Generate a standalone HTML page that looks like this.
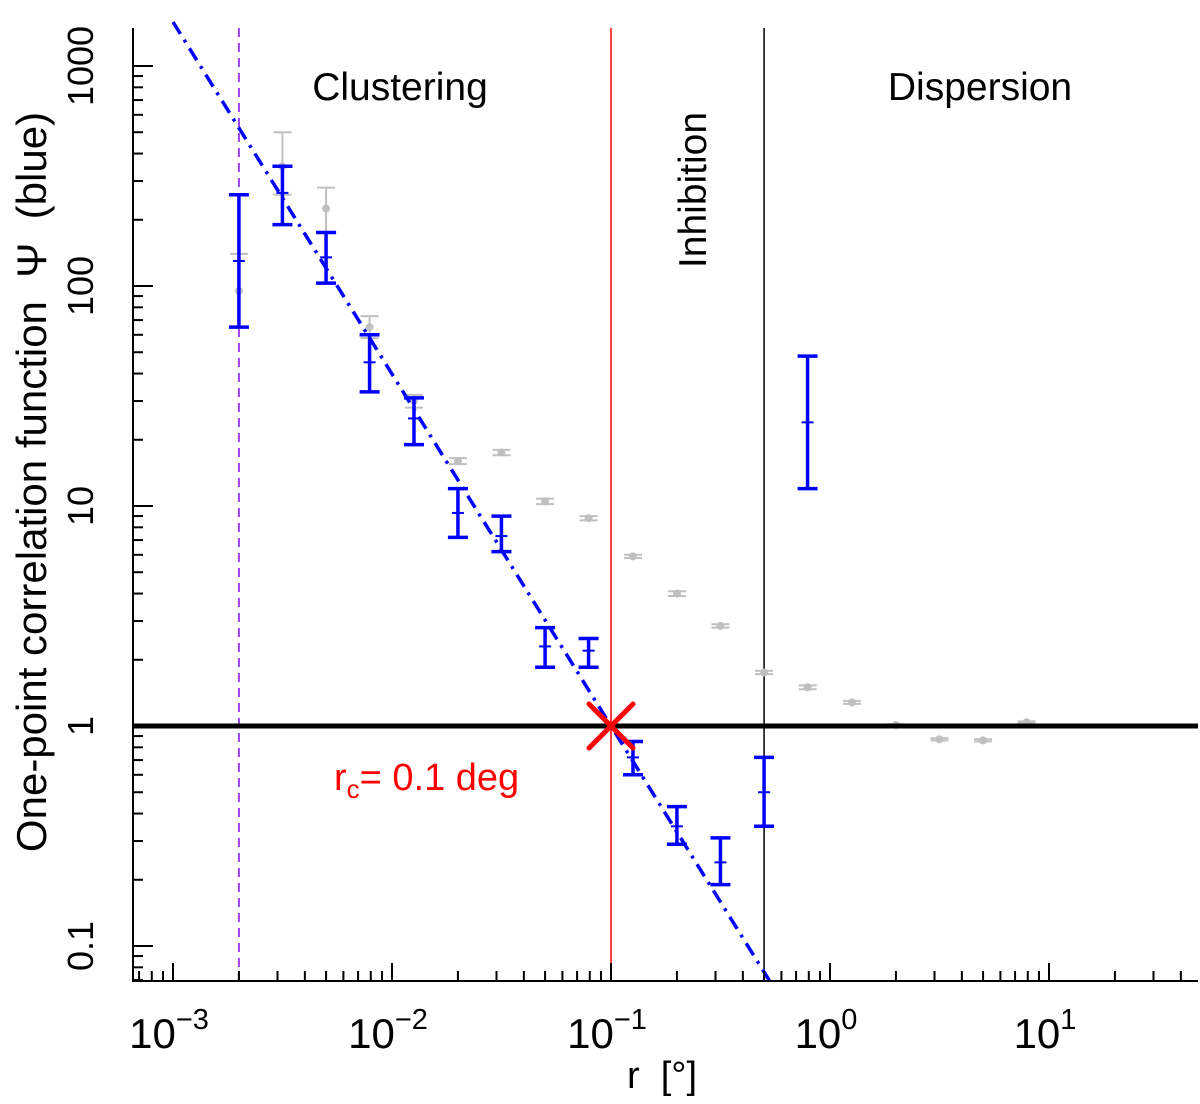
<!DOCTYPE html>
<html><head><meta charset="utf-8"><style>
body{margin:0;background:#fff}
svg{display:block;font-family:"Liberation Sans",sans-serif}
text{white-space:pre}
</style></head><body>
<svg id="chart" width="1200" height="1104" viewBox="0 0 1200 1104">
<g id="g"></g>
<text x="400" y="100" font-size="39" text-anchor="middle">Clustering</text>
<text x="980" y="100" font-size="39" text-anchor="middle">Dispersion</text>
<text transform="translate(706,190) rotate(-90)" font-size="39" text-anchor="middle">Inhibition</text>
<text x="334" y="790" font-size="38" fill="#f00">r<tspan font-size="26" dy="8">c</tspan><tspan dy="-8">= 0.1 deg</tspan></text>
<text x="662" y="1088" font-size="38" text-anchor="middle">r  [°]</text>
<text transform="translate(46,482) rotate(-90)" font-size="42" text-anchor="middle">One-point correlation function  Ψ  (blue)</text>
</svg>
<script>
const xMajorTicks=[-3,-2,-1,0,1];
const yTickVals=[0.1,1,10,100,1000];
const yTickLabels=["0.1","1","10","100","1000"];
const blueR=[0.002,0.00316,0.005,0.0079,0.0126,0.02,0.0316,0.05,0.079,0.126,0.2,0.316,0.5,0.79];
const blueC=[130,265,135,45,25,9.3,7.3,2.3,2.2,0.72,0.35,0.24,0.5,24];
const blueLo=[65,190,103,33,19,7.2,6.2,1.85,1.85,0.6,0.29,0.19,0.35,12];
const blueHi=[260,350,175,60,31,12,9,2.8,2.5,0.85,0.43,0.31,0.72,48];
const grayR=[0.002,0.00316,0.005,0.0079,0.0126,0.02,0.0316,0.05,0.079,0.126,0.2,0.316,0.5,0.79,1.26,2,3.16,5,7.9];
const grayC=[95,350,225,65,30,16,17.5,10.5,8.8,5.9,4.0,2.85,1.75,1.5,1.28,1.01,0.87,0.86,1.04];
const grayLo=[65,260,175,58,28,15.5,17,10.2,8.6,5.8,3.9,2.8,1.72,1.47,1.26,1.0,0.86,0.85,1.03];
const grayHi=[140,500,280,73,32,16.5,18,10.8,9,6,4.1,2.9,1.78,1.53,1.3,1.02,0.88,0.87,1.05];
const fitX=[0.001,0.53];
const fitAmp=1, fitR0=0.1, fitSlope=-1.6;
const vLines=[0.002,0.1,0.5];

const NS="http://www.w3.org/2000/svg", g=document.getElementById('g');
const X0=173,DX=219,Y0=726,DY=220,L=133,R=1198,T=28,B=981;
const sx=v=>X0+(Math.log10(v)+3)*DX;
const sy=v=>Y0-Math.log10(v)*DY;
function mk(tag,at,parent){const e=document.createElementNS(NS,tag);for(const k in at)e.setAttribute(k,at[k]);(parent||g).appendChild(e);return e;}

let e;
e=mk('line',{x1:sx(vLines[0]),x2:sx(vLines[0]),y1:T,y2:B,stroke:'#a040f0','stroke-width':2,'stroke-dasharray':'9,6'});


e=mk('line',{x1:sx(vLines[1]),x2:sx(vLines[1]),y1:T,y2:B,stroke:'#f00','stroke-width':1.5});


e=mk('line',{x1:sx(vLines[2]),x2:sx(vLines[2]),y1:T,y2:B,stroke:'#000','stroke-width':1.5});



for(let i=0;i<grayR.length;i++){
  const x=sx(grayR[i]);const gr=mk('g',{stroke:'#c0c0c0','stroke-width':2,fill:'#c0c0c0'});
  
  
  mk('line',{x1:x,x2:x,y1:sy(grayLo[i]),y2:sy(grayHi[i])},gr);
  mk('line',{x1:x-9,x2:x+9,y1:sy(grayLo[i]),y2:sy(grayLo[i])},gr);
  mk('line',{x1:x-9,x2:x+9,y1:sy(grayHi[i]),y2:sy(grayHi[i])},gr);
  mk('circle',{cx:x,cy:sy(grayC[i]),r:4,stroke:'none'},gr);
}
e=mk('line',{x1:L,x2:R,y1:sy(1),y2:sy(1),stroke:'#000','stroke-width':5});


const f=v=>fitAmp*Math.pow(v/fitR0,fitSlope);
e=mk('line',{x1:sx(fitX[0]),y1:sy(f(fitX[0])),x2:sx(fitX[1]),y2:sy(f(fitX[1])),stroke:'#00f','stroke-width':3.5,'stroke-dasharray':'14,7,3,7'});


for(let i=0;i<blueR.length;i++){
  const x=sx(blueR[i]);const gr=mk('g',{stroke:'#00f','stroke-width':3.5});
  
  
  mk('line',{x1:x,x2:x,y1:sy(blueLo[i]),y2:sy(blueHi[i])},gr);
  mk('line',{x1:x-10,x2:x+10,y1:sy(blueLo[i]),y2:sy(blueLo[i])},gr);
  mk('line',{x1:x-10,x2:x+10,y1:sy(blueHi[i]),y2:sy(blueHi[i])},gr);
  mk('line',{x1:x-6,x2:x+6,y1:sy(blueC[i]),y2:sy(blueC[i]),'stroke-width':2},gr);
}
const cx=sx(0.1),cy=sy(1);
e=mk('path',{d:`M${cx-22},${cy-22}L${cx+22},${cy+22}M${cx-22},${cy+22}L${cx+22},${cy-22}`,stroke:'#f00','stroke-width':5,'stroke-linecap':'round'});



e=mk('path',{d:`M${L},${T}V${B}H${R}`,fill:'none',stroke:'#000','stroke-width':2});


for(let d=-4;d<=1;d++){for(let m=1;m<10;m++){const v=m*Math.pow(10,d);const x=sx(v);if(x<L||x>R)continue;
  mk('line',{x1:x,x2:x,y1:B,y2:B-(m==1?18:10),stroke:'#000','stroke-width':2});}}
for(let d=-2;d<=3;d++){for(let m=1;m<10;m++){const v=m*Math.pow(10,d);const y=sy(v);if(y<T||y>B)continue;
  mk('line',{x1:L,x2:L+(m==1?20:10),y1:y,y2:y,stroke:'#000','stroke-width':2});}}
xMajorTicks.forEach(p=>{const t=mk('text',{x:sx(Math.pow(10,p))-4,y:1048,'font-size':42,'text-anchor':'middle'});
  
  
  t.textContent='10';const s=mk('tspan',{dy:-19,'font-size':29},t);s.textContent=p<0?'\u2212'+(-p):String(p);});
yTickVals.forEach((v,i)=>{const y=sy(v);const t=mk('text',{transform:`translate(93,${y}) rotate(-90)`,'font-size':36,'text-anchor':'middle'});
  
  
  t.textContent=yTickLabels[i];});
</script>
</body></html>
